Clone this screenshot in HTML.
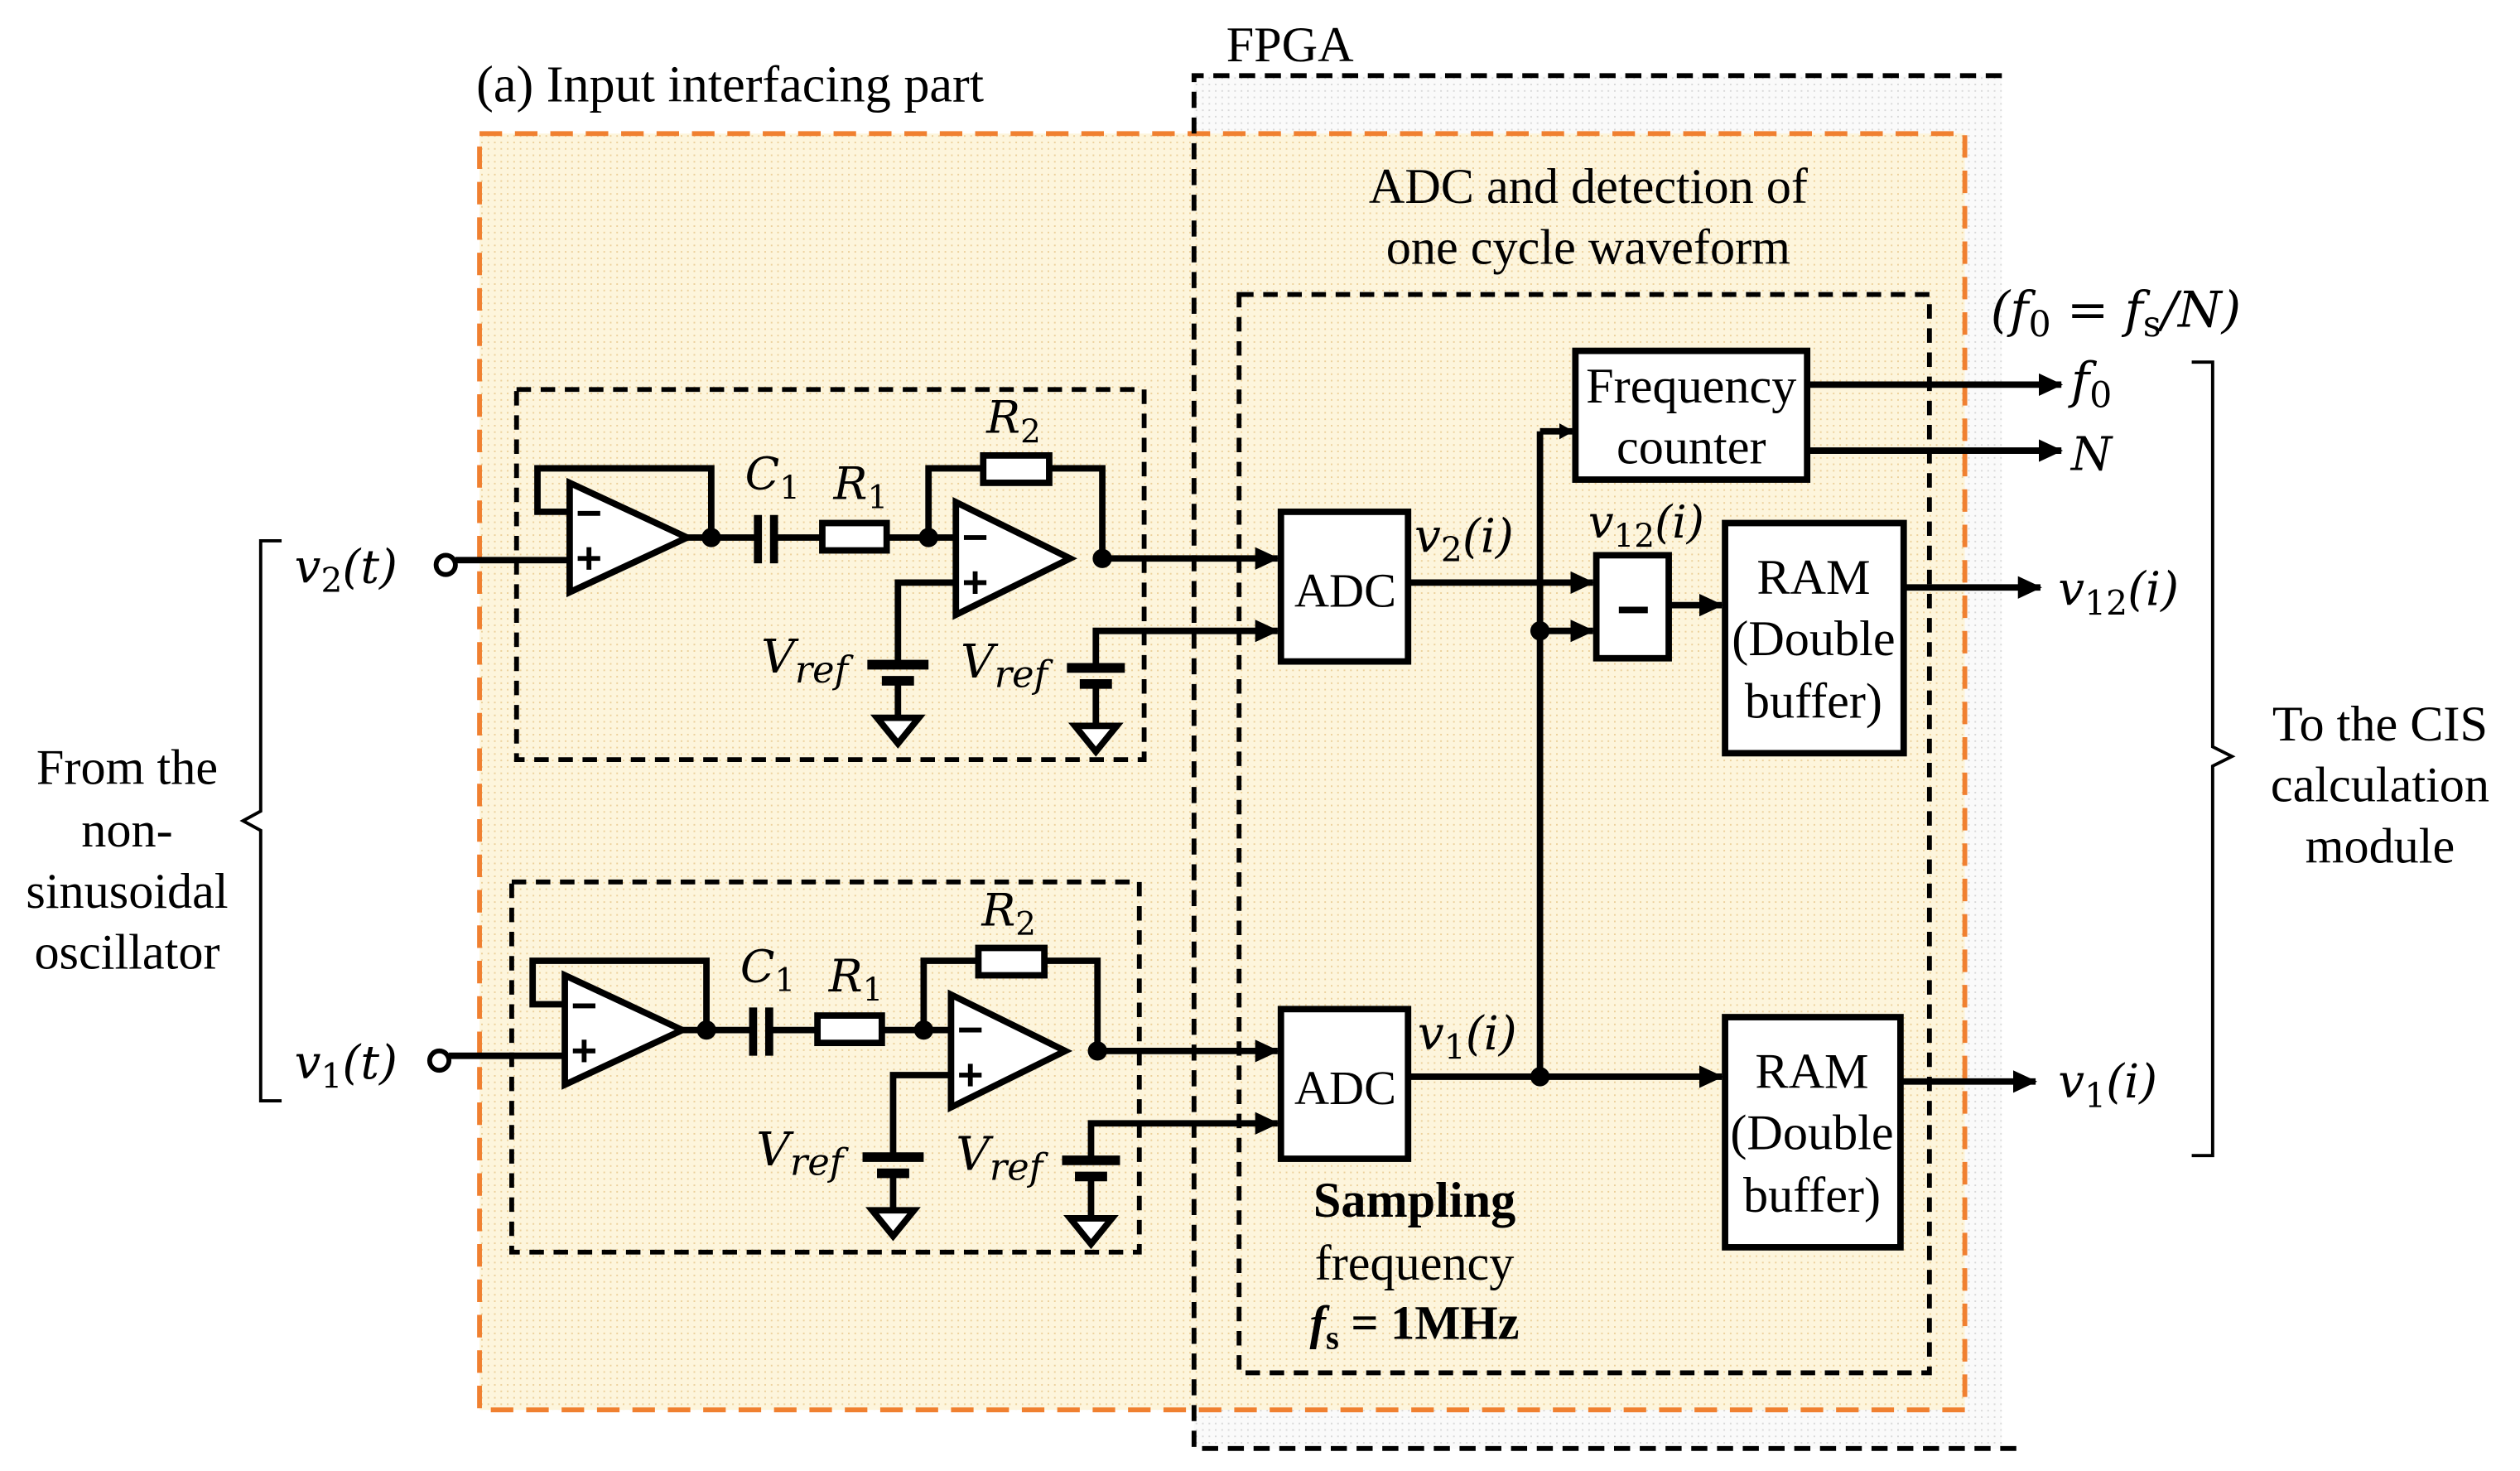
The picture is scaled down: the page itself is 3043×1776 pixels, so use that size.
<!DOCTYPE html>
<html><head><style>
html,body{margin:0;padding:0;background:#fff;}
svg{display:block;}
text{font-family:"Liberation Serif",serif;fill:#000;}
.m{font-family:"DejaVu Serif",serif;font-style:italic;}
</style></head><body>
<svg width="3043" height="1776" viewBox="1 0 1566 914" preserveAspectRatio="none" xmlns="http://www.w3.org/2000/svg">
<defs>
<marker id="a" markerWidth="9" markerHeight="10" refX="8" refY="5" orient="auto" markerUnits="userSpaceOnUse"><path d="M0,0 L9,5 L0,10 z" fill="#000"/></marker>
<marker id="b" markerWidth="15" markerHeight="14" refX="14" refY="7" orient="auto" markerUnits="userSpaceOnUse"><path d="M0,0 L15,7 L0,14 z" fill="#000"/></marker>
<g id="lc" stroke-linejoin="miter">
  <rect x="322" y="242" width="390" height="230" fill="none" stroke="#000" stroke-width="3" stroke-dasharray="9,6"/>
  <polygon points="355,300 355,368 428,334" fill="#fff" stroke="#000" stroke-width="4"/>
  <line x1="360" y1="319" x2="374" y2="319" stroke="#000" stroke-width="3"/>
  <line x1="360" y1="347" x2="374" y2="347" stroke="#000" stroke-width="3"/><line x1="367" y1="340" x2="367" y2="354" stroke="#000" stroke-width="3"/>
  <polyline points="355,318 335,318 335,291 443,291 443,334" fill="none" stroke="#000" stroke-width="4"/>
  <line x1="428" y1="334" x2="472" y2="334" stroke="#000" stroke-width="4"/>
  <circle cx="443" cy="334" r="6"/>
  <line x1="472" y1="320" x2="472" y2="350" stroke="#000" stroke-width="5"/>
  <line x1="482" y1="320" x2="482" y2="350" stroke="#000" stroke-width="5"/>
  <line x1="482" y1="334" x2="512" y2="334" stroke="#000" stroke-width="4"/>
  <rect x="512" y="325" width="40" height="17" fill="#fff" stroke="#000" stroke-width="4"/>
  <line x1="552" y1="334" x2="595" y2="334" stroke="#000" stroke-width="4"/>
  <circle cx="578" cy="334" r="6"/>
  <polyline points="578,334 578,291 612,291" fill="none" stroke="#000" stroke-width="4"/>
  <rect x="612" y="283" width="41" height="17" fill="#fff" stroke="#000" stroke-width="4"/>
  <polyline points="653,291 686,291 686,347" fill="none" stroke="#000" stroke-width="4"/>
  <polygon points="595,312 595,382 666,347" fill="#fff" stroke="#000" stroke-width="4"/>
  <line x1="600" y1="334" x2="614" y2="334" stroke="#000" stroke-width="3"/>
  <line x1="600" y1="362" x2="614" y2="362" stroke="#000" stroke-width="3"/><line x1="607" y1="355" x2="607" y2="369" stroke="#000" stroke-width="3"/>
  <circle cx="686" cy="347" r="6"/>
  <polyline points="595,362 559,362 559,412" fill="none" stroke="#000" stroke-width="4"/>
  <line x1="540" y1="413" x2="578" y2="413" stroke="#000" stroke-width="6"/>
  <line x1="549" y1="423" x2="569" y2="423" stroke="#000" stroke-width="6"/>
  <line x1="559" y1="423" x2="559" y2="446" stroke="#000" stroke-width="4"/>
  <polygon points="546,446 572,446 559,462" fill="#fff" stroke="#000" stroke-width="4"/>
  <line x1="664" y1="415" x2="700" y2="415" stroke="#000" stroke-width="6"/>
  <line x1="672" y1="425" x2="692" y2="425" stroke="#000" stroke-width="6"/>
  <line x1="682" y1="425" x2="682" y2="451" stroke="#000" stroke-width="4"/>
  <polygon points="669,451 695,451 682,467" fill="#fff" stroke="#000" stroke-width="4"/>
  <text x="464" y="304" font-size="28" class="m">C<tspan font-size="20" dy="6" font-style="normal">1</tspan></text>
  <text x="519" y="310" font-size="28" class="m">R<tspan font-size="20" dy="6" font-style="normal">1</tspan></text>
  <text x="614" y="269" font-size="28" class="m">R<tspan font-size="20" dy="6" font-style="normal">2</tspan></text>
  <text x="474" y="418" font-size="29" class="m">V<tspan font-size="23" dy="6">ref</tspan></text>
  <text x="598" y="421" font-size="29" class="m">V<tspan font-size="23" dy="6">ref</tspan></text>
</g>
<pattern id="dg" width="4" height="4" patternUnits="userSpaceOnUse"><rect width="4" height="4" fill="#fafafa"/><rect width="1" height="1" fill="#d8d8d8"/></pattern>
<pattern id="dy" width="4" height="4" patternUnits="userSpaceOnUse"><rect width="4" height="4" fill="#fdf5dc"/><rect width="1" height="1" fill="#ecd09a"/></pattern>
</defs>

<rect x="743" y="47" width="502" height="853" fill="url(#dg)"/>
<rect x="299" y="83" width="923" height="793" fill="url(#dy)"/>
<rect x="299" y="83" width="923" height="793" fill="none" stroke="#f08030" stroke-width="3" stroke-dasharray="14,8"/>
<polyline points="1245,47 743,47 743,900 1255,900" fill="none" stroke="#000" stroke-width="3" stroke-dasharray="10,6"/>
<text x="297" y="63" font-size="32">(a) Input interfacing part</text>
<text x="763" y="38" font-size="31">FPGA</text>

<use href="#lc"/>
<use href="#lc" transform="translate(-3,306)"/>

<circle cx="278" cy="351" r="6" fill="#fff" stroke="#000" stroke-width="3"/>
<line x1="284" y1="348" x2="355" y2="348" stroke="#000" stroke-width="4"/>
<circle cx="274" cy="659" r="6" fill="#fff" stroke="#000" stroke-width="3"/>
<line x1="280" y1="656" x2="352" y2="656" stroke="#000" stroke-width="4"/>
<text x="184" y="362" font-size="29" class="m">v<tspan font-size="21" dy="6" font-style="normal">2</tspan><tspan dy="-6">(t)</tspan></text>
<text x="184" y="670" font-size="29" class="m">v<tspan font-size="21" dy="6" font-style="normal">1</tspan><tspan dy="-6">(t)</tspan></text>
<path d="M176,336 L163,336 L163,504 L152,510 L163,516 L163,684 L176,684" fill="none" stroke="#000" stroke-width="2"/>
<g font-size="31" text-anchor="middle"><text x="80" y="487">From the</text><text x="80" y="526">non-</text><text x="80" y="564">sinusoidal</text><text x="80" y="602">oscillator</text></g>

<line x1="686" y1="347" x2="795" y2="347" stroke="#000" stroke-width="4" marker-end="url(#b)"/>
<polyline points="682,415 682,392 795,392" fill="none" stroke="#000" stroke-width="4" marker-end="url(#b)"/>
<line x1="683" y1="653" x2="795" y2="653" stroke="#000" stroke-width="4" marker-end="url(#b)"/>
<polyline points="679,721 679,698 795,698" fill="none" stroke="#000" stroke-width="4" marker-end="url(#b)"/>

<rect x="771" y="183" width="429" height="670" fill="none" stroke="#000" stroke-width="3" stroke-dasharray="9,6"/>
<g font-size="31" text-anchor="middle"><text x="988" y="126">ADC and detection of</text><text x="988" y="164">one cycle waveform</text></g>

<rect x="797" y="318" width="79" height="93" fill="#fff" stroke="#000" stroke-width="4"/>
<text x="837" y="377" font-size="30" text-anchor="middle">ADC</text>
<rect x="797" y="627" width="79" height="93" fill="#fff" stroke="#000" stroke-width="4"/>
<text x="837" y="686" font-size="30" text-anchor="middle">ADC</text>

<rect x="980" y="218" width="144" height="80" fill="#fff" stroke="#000" stroke-width="4"/>
<g font-size="31" text-anchor="middle"><text x="1052" y="250">Frequency</text><text x="1052" y="288">counter</text></g>
<rect x="993" y="345" width="45" height="64" fill="#fff" stroke="#000" stroke-width="4"/>
<line x1="1007" y1="379" x2="1025" y2="379" stroke="#000" stroke-width="4"/>
<rect x="1073" y="325" width="111" height="143" fill="#fff" stroke="#000" stroke-width="4"/>
<g font-size="31" text-anchor="middle"><text x="1128" y="369">RAM</text><text x="1128" y="407">(Double</text><text x="1128" y="446">buffer)</text></g>
<rect x="1073" y="632" width="109" height="143" fill="#fff" stroke="#000" stroke-width="4"/>
<g font-size="31" text-anchor="middle"><text x="1127" y="676">RAM</text><text x="1127" y="714">(Double</text><text x="1127" y="753">buffer)</text></g>

<line x1="876" y1="362" x2="991" y2="362" stroke="#000" stroke-width="4" marker-end="url(#b)"/>
<line x1="958" y1="268" x2="958" y2="669" stroke="#000" stroke-width="4"/>
<line x1="958" y1="268" x2="978" y2="268" stroke="#000" stroke-width="4" marker-end="url(#a)"/>
<line x1="958" y1="392" x2="991" y2="392" stroke="#000" stroke-width="4" marker-end="url(#b)"/>
<circle cx="958" cy="392" r="6"/>
<line x1="1038" y1="376" x2="1071" y2="376" stroke="#000" stroke-width="4" marker-end="url(#b)"/>
<line x1="876" y1="669" x2="1071" y2="669" stroke="#000" stroke-width="4" marker-end="url(#b)"/>
<circle cx="958" cy="669" r="6"/>
<line x1="1124" y1="239" x2="1282" y2="239" stroke="#000" stroke-width="4" marker-end="url(#b)"/>
<line x1="1124" y1="280" x2="1282" y2="280" stroke="#000" stroke-width="4" marker-end="url(#b)"/>
<line x1="1184" y1="365" x2="1269" y2="365" stroke="#000" stroke-width="4" marker-end="url(#b)"/>
<line x1="1182" y1="672" x2="1266" y2="672" stroke="#000" stroke-width="4" marker-end="url(#b)"/>

<text x="880" y="343" font-size="29" class="m">v<tspan font-size="21" dy="6" font-style="normal">2</tspan><tspan dy="-6">(i)</tspan></text>
<text x="988" y="334" font-size="28" class="m">v<tspan font-size="20" dy="6" font-style="normal">12</tspan><tspan dy="-6">(i)</tspan></text>
<text x="882" y="652" font-size="29" class="m">v<tspan font-size="21" dy="6" font-style="normal">1</tspan><tspan dy="-6">(i)</tspan></text>
<text x="1238" y="203" font-size="31" class="m">(f<tspan font-size="22" dy="6" font-style="normal">0</tspan><tspan dy="-6" font-style="normal"> = </tspan>f<tspan font-size="22" dy="6" font-style="normal">s</tspan><tspan dy="-6">/N)</tspan></text>
<text x="1288" y="247" font-size="31" class="m">f<tspan font-size="22" dy="6" font-style="normal">0</tspan></text>
<text x="1288" y="292" font-size="29" class="m">N</text>
<text x="1280" y="376" font-size="29" class="m">v<tspan font-size="21" dy="6" font-style="normal">12</tspan><tspan dy="-6">(i)</tspan></text>
<text x="1280" y="682" font-size="29" class="m">v<tspan font-size="21" dy="6" font-style="normal">1</tspan><tspan dy="-6">(i)</tspan></text>
<g text-anchor="middle"><text x="880" y="756" font-size="31" font-weight="bold" font-family="DejaVu Serif">Sampling</text><text x="880" y="795" font-size="31">frequency</text><text x="880" y="832" font-size="30" font-weight="bold" font-family="DejaVu Serif"><tspan font-style="italic">f</tspan><tspan font-size="21" dy="6">s</tspan><tspan dy="-6"> = 1MHz</tspan></text></g>

<path d="M1363,225 L1376,225 L1376,464 L1388,470 L1376,476 L1376,718 L1363,718" fill="none" stroke="#000" stroke-width="2"/>
<g font-size="31" text-anchor="middle"><text x="1480" y="460">To the CIS</text><text x="1480" y="498">calculation</text><text x="1480" y="536">module</text></g>
</svg>
</body></html>
